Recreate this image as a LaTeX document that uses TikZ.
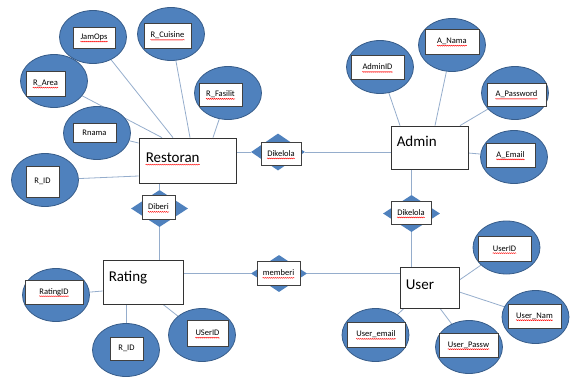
\documentclass[tikz,border=0pt]{standalone}
\usepackage{fontspec}
\setmainfont{Carlito}
\usetikzlibrary{shapes.geometric,decorations.pathmorphing,backgrounds,positioning}

\definecolor{attrblue}{HTML}{4F81BD}
\definecolor{attredge}{HTML}{385D8A}
\definecolor{linkblue}{HTML}{95ADCC}

\tikzset{
  attr/.style={ellipse, fill=attrblue, draw=attredge, line width=0.8pt,
    minimum width=67pt, minimum height=53pt, inner sep=0},
  relation/.style={diamond, fill=attrblue, inner sep=0},
  tagbox/.style={draw=black!75, fill=white, line width=0.7pt, inner sep=0},
  tagtext/.style={inner sep=0, font=\fontsize{8.5}{10}\selectfont},
  entity/.style={draw=black!80, fill=white, line width=0.8pt, inner sep=0},
  entitytext/.style={inner sep=0, anchor=base west, font=\fontsize{15}{18}\selectfont},
  link/.style={draw=linkblue, line width=0.8pt},
  spell/.style={draw=red, line width=0.4pt, decorate,
    decoration={snake, amplitude=0.5pt, segment length=2pt}}
}

\begin{document}
\begin{tikzpicture}[x=1pt, y=-1pt]
  \useasboundingbox (0,0) rectangle (571,376);

  % Entities
  \node[entity, minimum width=97pt, minimum height=45pt] (restoran) at (187.5,160.5) {};
  \node[entity, minimum width=77pt, minimum height=43pt] (admin) at (429.5,147.5) {};
  \node[entity, minimum width=80pt, minimum height=44pt] (rating) at (143,282) {};
  \node[entity, minimum width=59pt, minimum height=41pt] (user) at (429.5,287.5) {};

  \node[entitytext] (restoran-t) at ([xshift=7pt,yshift=-25pt]restoran.north west) {Restoran};
  \node[entitytext] (admin-t) at ([xshift=6pt,yshift=-21pt]admin.north west) {Admin};
  \node[entitytext] (rating-t) at ([xshift=6pt,yshift=-22pt]rating.north west) {Rating};
  \node[entitytext] (user-t) at ([xshift=6pt,yshift=-23pt]user.north west) {User};

  % Relationships: diamond with a white tag on top
  \foreach \n/\dx/\dy/\dw/\dh/\bx/\by/\bw/\bh/\txt in {
      dikelola1/278/152/54/37/281/153.5/40/23/Dikelola,
      diberi/159.5/208.5/57/37/158.5/207/33/24/Diberi,
      memberi/279/273.5/56/37/278.5/273/43/24/memberi,
      dikelola2/411.5/213.5/57/37/411/212.5/40/23/Dikelola} {
    \node[relation, minimum width=\dw pt, minimum height=\dh pt] (\n) at (\dx,\dy) {};
    \node[tagbox, minimum width=\bw pt, minimum height=\bh pt] (\n-box) at (\bx,\by) {};
    \node[tagtext] (\n-t) at (\n-box) {\txt};
  }

  % Attributes: ellipse with a white tag
  \foreach \n/\ex/\ey/\bx/\by/\bw/\bh/\txt in {
      jamops/93/37/94/37.5/42/21/JamOps,
      rcuisine/171/34/167.5/35.5/47/25/R\_Cuisine,
      rarea/54/81/45.5/83.5/39/25/R\_Area,
      rfasilit/228/93/220.5/94.5/43/23/R\_Fasilit,
      rnama/97/133/94.5/132.5/43/19/Rnama,
      rid/45/180/42.5/181.5/33/31/R\_ID,
      adminid/380/67/377.5/67/53/24/AdminID,
      anama/452/45/452/41.5/54/25/A\_Nama,
      apassword/515/93/516.5/94.5/59/23/A\_Password,
      aemail/514/157/510.5/155/49/24/A\_Email,
      ratingid/56/295/54/292/58/24/RatingID,
      ridrating/126/350/126.5/348.5/33/23/R\_ID,
      userid1/202/335/207.5/333/41/26/USerID,
      userid/506.5/247.5/504.5/248.5/53/25/UserID,
      usernam/535.5/317/534.5/316/53/24/User\_Nam,
      userpassw/469/347/468.5/345/59/24/User\_Passw,
      useremail/375.5/335/376/334.5/58/25/User\_email} {
    \node[attr] (\n) at (\ex,\ey) {};
    \node[tagbox, minimum width=\bw pt, minimum height=\bh pt] (\n-box) at (\bx,\by) {};
    \node[tagtext] (\n-t) at (\n-box) {\txt};
  }

  % Spell-check marks under the words
  \foreach \n in {restoran,dikelola1,diberi,memberi,dikelola2,jamops,rcuisine,
      rarea,rfasilit,adminid,anama,apassword,aemail,ratingid,userid1,userid,
      usernam,userpassw,useremail}
    \draw[spell] ([yshift=-2pt]\n-t.base west) -- ([yshift=-2pt]\n-t.base east);

  \begin{pgfonlayer}{background}
    % Restoran
    \draw[link] (jamops) -- ([xshift=-14.5pt]restoran.north);
    \draw[link] (rcuisine) -- ([xshift=2.5pt]restoran.north);
    \draw[link] (rarea) -- ([xshift=-25.5pt]restoran.north);
    \draw[link] (rfasilit) -- ([xshift=25.5pt]restoran.north);
    \draw[link] (rnama) -- ([yshift=17.5pt]restoran.west);
    \draw[link] (rid) -- ([yshift=-15.5pt]restoran.west);
    \draw[link] (restoran.east |- dikelola1) -- (dikelola1);
    \draw[link] (dikelola1) -- (dikelola1 -| admin.west);
    \draw[link] (diberi |- restoran.south) -- (diberi);
    \draw[link] (diberi) -- (diberi |- rating.north);

    % Admin
    \draw[link] (adminid) -- ([xshift=-29.5pt]admin.north);
    \draw[link] (anama) -- ([xshift=5.5pt]admin.north);
    \draw[link] (apassword) -- ([xshift=30.5pt]admin.north);
    \draw[link] (aemail) -- ([yshift=-5.5pt]admin.east);
    \draw[link] (dikelola2 |- admin.south) -- (dikelola2);
    \draw[link] (dikelola2) -- (dikelola2 |- user.north);

    % Rating
    \draw[link] (ratingid) -- ([yshift=-9pt]rating.west);
    \draw[link] (ridrating) -- ([xshift=-17pt]rating.south);
    \draw[link] (userid1) -- ([xshift=20pt]rating.south);
    \draw[link] (rating.east |- memberi) -- (memberi);
    \draw[link] (memberi) -- (memberi -| user.west);

    % User
    \draw[link] (userid) -- ([yshift=7.5pt]user.east);
    \draw[link] (usernam) -- ([yshift=-4.5pt]user.east);
    \draw[link] (userpassw) -- ([xshift=10.5pt]user.south);
    \draw[link] (useremail) -- ([xshift=-25.5pt]user.south);
  \end{pgfonlayer}
\end{tikzpicture}
\end{document}
